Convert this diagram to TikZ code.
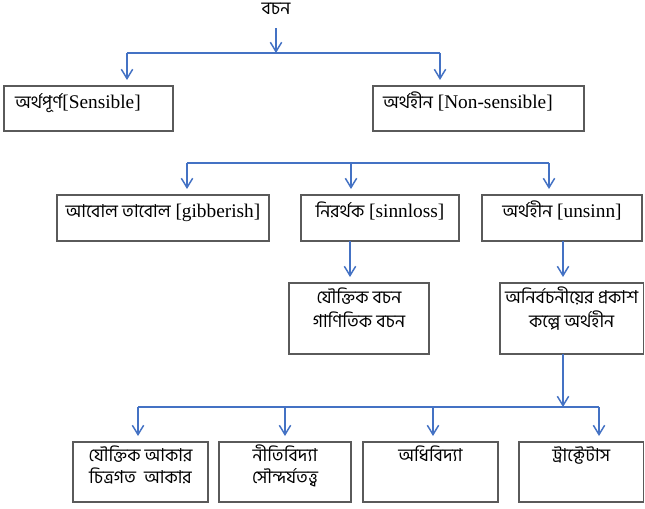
\documentclass[tikz,border=0pt]{standalone}
\usepackage{fontspec}
\setmainfont{Liberation Serif}
\newfontfamily\bn[Script=Bengali,Scale=0.92]{Hind Siliguri}
\usetikzlibrary{arrows.meta}
\definecolor{connblue}{RGB}{68,114,196}
\definecolor{boxgray}{RGB}{90,90,90}
\newlength\upx \setlength\upx{0.75pt}
% left-aligned box: width, height, baseline offset, indent, content
\newcommand\lbox[5]{\parbox[c][#2\upx][t]{#1\upx}{\raggedright\hspace*{#4\upx}\rule{0pt}{#3\upx}#5\par}}
% centred box: width, height, baseline offset, line distance, content
\newcommand\cbox[5]{\parbox[c][#2\upx][t]{#1\upx}{\centering\rule{0pt}{#3\upx}#5\setlength\baselineskip{#4\upx}\par}}
\begin{document}
\begin{tikzpicture}[x=0.75pt,y=-0.75pt,
  font=\fontsize{14.5}{17}\selectfont,
  box/.style={draw=boxgray,line width=0.9pt,inner sep=0pt,outer sep=0pt,anchor=north west},
  conn/.style={draw=connblue,line width=1.1pt},
  arr/.style={conn,-{Straight Barb[length=7pt,width=8.5pt]}},
  gap/.style={shorten >=4.5pt}]
\fill[white] (0,0) rectangle (645,509);
\useasboundingbox (0,0) rectangle (645,509);

% root
\node[inner sep=0pt] (root) at (276,9) {\bn বচন};

% level 1
\node[box] (sens) at (4,86) {\lbox{169}{45}{23}{11}{{\bn অর্থপূর্ণ}[Sensible]}};
\node[box] (nons) at (373,86) {\lbox{211}{45}{23}{10}{{\bn অর্থহীন} [Non-sensible]}};

% level 2
\node[box] (gib) at (57,195) {\cbox{212}{46}{23}{20}{{\bn আবোল তাবোল} [gibberish]}};
\node[box] (niro) at (301,195) {\cbox{158}{46}{23}{20}{{\bn নিরর্থক} [sinnloss]}};
\node[box] (uns) at (482,195) {\cbox{160}{46}{23}{20}{{\bn অর্থহীন} [unsinn]}};

% level 3
\node[box] (jouk) at (289,283) {\cbox{140}{71}{20}{24}{\bn যৌক্তিক বচন\\গাণিতিক বচন}};
\node[box] (anir) at (500,283) {\cbox{143.5}{71}{20}{24}{\bn অনির্বচনীয়ের প্রকাশ\\কল্পে অর্থহীন}};

% level 4
\node[box] (ak) at (73,442) {\cbox{135}{60}{19}{22}{\bn যৌক্তিক আকার\\চিত্রগত\ \ আকার}};
\node[box] (niti) at (219,442) {\cbox{132}{60}{19}{22}{\bn নীতিবিদ্যা\\সৌন্দর্যতত্ত্ব}};
\node[box] (adhi) at (363,442) {\cbox{135}{60}{19}{22}{\bn অধিবিদ্যা}};
\node[box] (trac) at (519,442) {\cbox{124.5}{60}{19}{22}{\bn ট্রাক্টেটাস}};

% junction coordinates
\coordinate (j0) at (276,53);
\coordinate (j1) at (127,53);
\coordinate (j2) at (440,53);
\coordinate (k1) at (187,163);
\coordinate (k2) at (351,163);
\coordinate (k3) at (549,163);
\coordinate (x350) at (350,0);
\coordinate (x563) at (563,0);
\coordinate (m0) at (563,407);
\coordinate (m1) at (138,407);
\coordinate (m2) at (285,407);
\coordinate (m3) at (433,407);
\coordinate (m4) at (599,407);

% top connectors
\draw[arr,shorten <=10pt] (root) -- (j0);
\draw[conn] (j1) -- (j2);
\draw[arr,gap] (j1) -- (j1 |- sens.north);
\draw[arr,gap] (j2) -- (j2 |- nons.north);

% level 2 connectors
\draw[conn] (k1) -- (k3);
\draw[arr,gap] (k1) -- (k1 |- gib.north);
\draw[arr,gap] (k2) -- (k2 |- niro.north);
\draw[arr,gap] (k3) -- (k3 |- uns.north);

% level 3 connectors
\draw[arr,gap] (niro.south -| x350) -- (jouk.north -| x350);
\draw[arr,gap] (uns.south -| x563) -- (anir.north -| x563);

% level 4 connectors
\draw[arr] (anir.south -| x563) -- (m0);
\draw[conn] (m1) -- (m4);
\draw[arr,gap] (m1) -- (m1 |- ak.north);
\draw[arr,gap] (m2) -- (m2 |- niti.north);
\draw[arr,gap] (m3) -- (m3 |- adhi.north);
\draw[arr,gap] (m4) -- (m4 |- trac.north);
\end{tikzpicture}
\end{document}
